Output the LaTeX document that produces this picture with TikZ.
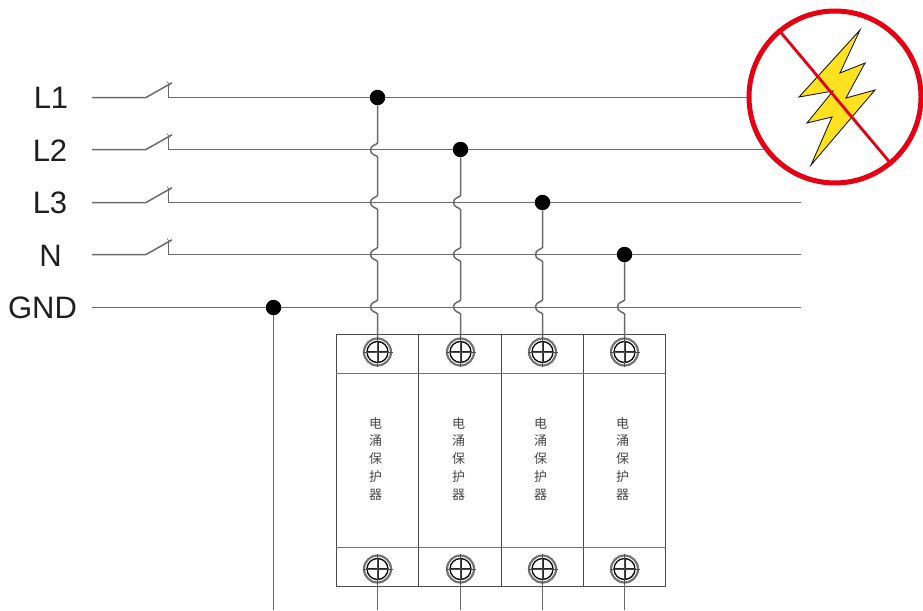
\documentclass[tikz,border=0pt]{standalone}
\usepackage{fontspec}
\setmainfont{Liberation Sans}
\newfontfamily\cjkfont{Noto Sans CJK SC}[Scale=1]
\usetikzlibrary{calc}
\definecolor{wirecol}{HTML}{6A6A6A}
\definecolor{boxcol}{HTML}{4A4A4A}
\definecolor{nored}{HTML}{E60012}
\definecolor{boltyellow}{HTML}{FFE21F}
\tikzset{
  x=1pt,y=-1pt,
  wire/.style={draw=wirecol,line width=1.5pt},
  boxline/.style={draw=boxcol,line width=1pt},
  hop/.style={to path={.. controls +(-1,2) and +(0,-5) .. ++(-7,7) .. controls +(0,5) and +(-1,-2) .. (\tikztotarget) \tikztonodes}},
  dot/.style={circle,fill=black,inner sep=0pt,minimum size=15.5pt},
  busname/.style={font=\fontsize{31}{31}\selectfont,text=black!88,inner sep=0pt,anchor=center},
  module/.style={boxline,minimum width=82.3pt,minimum height=252pt,inner sep=0pt,anchor=north west},
  terminal/.style={circle,draw=black!55,line width=2.2pt,fill=white,minimum size=27pt,inner sep=0pt},
  spdlabel/.style={font=\cjkfont\fontsize{13}{17.8}\selectfont,text=black!72,align=center,inner sep=0pt,anchor=north},
}
\begin{document}
\begin{tikzpicture}
\useasboundingbox (0,0) rectangle (923,610);
% bolt, then the sign over it
\draw[fill=boltyellow,draw=black!90,line width=.9pt,line join=miter,miter limit=10]
  (860,30) -- (840,73) -- (865,63) -- (846,98) -- (875,90) -- (811,165) -- (832,117) -- (807,123) -- (833,91) -- (799,97) -- cycle;
\node[circle,draw=nored,line width=5pt,minimum size=172pt,inner sep=0pt] (nosign) at (835,97) {};
\draw[nored,line width=2.8pt] (nosign.130) -- (nosign.-50);
% labels
\node[busname] (lL1) at (51,98) {L1};
\node[busname] (lL2) at (50,150.5) {L2};
\node[busname] (lL3) at (50,203) {L3};
\node[busname] (lN) at (50.5,256) {N};
\node[busname] (lGND) at (42.5,308) {GND};
% junctions
\node[dot] (d1) at (377.5,97.5) {};
\node[dot] (d2) at (460.5,149.5) {};
\node[dot] (d3) at (542.5,202.5) {};
\node[dot] (d4) at (624.5,254.5) {};
\node[dot] (dg) at (273.5,307.5) {};
% free ends
\coordinate (e3) at (801,202.5);
\coordinate (e4) at (801,254.5);
\coordinate (eg) at (801,307.5);
\coordinate (s1) at (92,97.5);
\coordinate (s2) at (92,149.5);
\coordinate (s3) at (92,202.5);
\coordinate (s4) at (92,254.5);
\coordinate (sg) at (92,307.5);
% bus wires and switches
\foreach \n/\ya/\target in {1/97.5/nosign.west,2/149.5/nosign.218,3/202.5/e3,4/254.5/e4}{
  \coordinate (a\n) at (146,\ya);
  \coordinate (b\n) at (168.5,\ya);
  \coordinate (c\n) at (168.5,\ya-14);
  \coordinate (f\n) at (172,\ya-14.7);
  \coordinate (z\n) at (\target);
  \draw[wire] (s\n) -- (a\n) -- (f\n);
  \draw[wire] (c\n) -- (b\n) -- (d\n) -- (z\n |- b\n);
  \draw[wire,line width=.6pt] ($(c\n)+(-1.5,-2)$) -- ($(c\n)+(1.5,2)$);
}
\draw[wire] (sg) -- (dg) -- (eg);
% modules
\foreach \n/\xa in {1/336,2/418.3,3/500.6,4/582.9}{
  \node[module,draw] (m\n) at (\xa,334) {};
}
\draw[boxline,draw=black!55] (m1.north west |- 0,373) -- (m4.north east |- 0,373);
\draw[boxline,draw=black!55] (m1.north west |- 0,547) -- (m4.north east |- 0,547);
% terminals
\foreach \n/\xa in {1/377.5,2/460.5,3/542.5,4/624.5}{
  \foreach \pre/\ya in {t/352,u/569}{
    \node[terminal] (\pre\n) at (\xa,\ya) {};
    \draw[black,line width=1.3pt] (\pre\n) circle[radius=10.5];
    \draw[black!85,line width=2pt] ($(\pre\n)+(-10.5,0)$) -- ($(\pre\n)+(10.5,0)$);
    \draw[black!85,line width=2pt] ($(\pre\n)+(0,-10.5)$) -- ($(\pre\n)+(0,10.5)$);
    \draw[black!70,line width=.6pt] ($(\pre\n)+(-15,0)$) -- ($(\pre\n)+(15,0)$);
    \draw[black!70,line width=.6pt] ($(\pre\n)+(0,-15)$) -- ($(\pre\n)+(0,15)$);
  }
  \coordinate (o\n) at (\xa,610);
  \draw[wire] (u\n.south) -- (o\n);
  \node[spdlabel] (txt\n) at (\xa-2,417) {电\\涌\\保\\护\\器};
}
% drops with hops
\draw[wire] (d1) -- (377.5,143) to[hop] (377.5,157) -- (377.5,195.5) to[hop] (377.5,209.5) -- (377.5,247.5) to[hop] (377.5,261.5) -- (377.5,300) to[hop] (377.5,314) -- (t1.north);
\draw[wire] (d2) -- (460.5,195.5) to[hop] (460.5,209.5) -- (460.5,247.5) to[hop] (460.5,261.5) -- (460.5,300) to[hop] (460.5,314) -- (t2.north);
\draw[wire] (d3) -- (542.5,247.5) to[hop] (542.5,261.5) -- (542.5,300) to[hop] (542.5,314) -- (t3.north);
\draw[wire] (d4) -- (624.5,300) to[hop] (624.5,314) -- (t4.north);
\coordinate (og) at (273.5,610);
\draw[wire] (dg) -- (og);
\end{tikzpicture}
\end{document}
